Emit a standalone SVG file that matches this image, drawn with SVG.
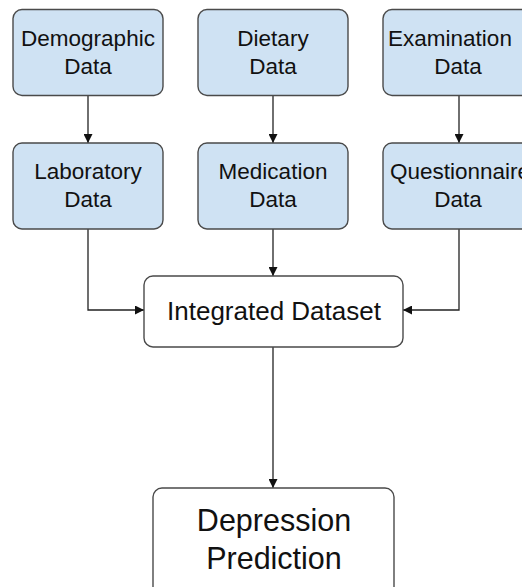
<svg xmlns="http://www.w3.org/2000/svg" width="522" height="587" viewBox="0 0 522 587">
<defs>
<style>
.src{fill:#cfe2f3;stroke:#4a4a4a;stroke-width:1.4}
.out{fill:#ffffff;stroke:#4a4a4a;stroke-width:1.4}
text{font-family:"Liberation Sans",Arial,sans-serif;fill:#111;text-anchor:middle}
.s{font-size:22.5px}
.m{font-size:26px}
.l{font-size:30.5px}
.c{fill:none;stroke:#222;stroke-width:1.3}
</style>
<marker id="ah" viewBox="0 0 10 10" refX="10" refY="5" markerWidth="10" markerHeight="9" markerUnits="userSpaceOnUse" orient="auto">
<path d="M0,0 L10,5 L0,10 z" fill="#111"/>
</marker>
</defs>
<rect width="522" height="587" fill="#ffffff"/>
<g id="connectors">
<path class="c" d="M88,96 V143" marker-end="url(#ah)"/>
<path class="c" d="M273,96 V143" marker-end="url(#ah)"/>
<path class="c" d="M459,96 V143" marker-end="url(#ah)"/>
<path class="c" d="M88,229 V310 H144" marker-end="url(#ah)"/>
<path class="c" d="M273,229 V276" marker-end="url(#ah)"/>
<path class="c" d="M459,229 V310 H403" marker-end="url(#ah)"/>
<path class="c" d="M273,347 V488" marker-end="url(#ah)"/>
</g>
<g id="demographic">
<rect class="src" x="13" y="9.5" width="150" height="86" rx="9"/>
<text class="s" x="88" y="46">Demographic</text>
<text class="s" x="88" y="74">Data</text>
</g>
<g id="dietary">
<rect class="src" x="198" y="9.5" width="150" height="86" rx="9"/>
<text class="s" x="273" y="46">Dietary</text>
<text class="s" x="273" y="74">Data</text>
</g>
<g id="examination">
<rect class="src" x="383" y="9.5" width="152" height="86" rx="9"/>
<text class="s" x="450" y="46">Examination</text>
<text class="s" x="458" y="74">Data</text>
</g>
<g id="laboratory">
<rect class="src" x="13" y="143" width="150" height="86" rx="9"/>
<text class="s" x="88" y="179">Laboratory</text>
<text class="s" x="88" y="207">Data</text>
</g>
<g id="medication">
<rect class="src" x="198" y="143" width="150" height="86" rx="9"/>
<text class="s" x="273" y="179">Medication</text>
<text class="s" x="273" y="207">Data</text>
</g>
<g id="questionnaire">
<rect class="src" x="383" y="143" width="152" height="86" rx="9"/>
<text class="s" x="390" y="179" style="text-anchor:start">Questionnaire</text>
<text class="s" x="458" y="207">Data</text>
</g>
<g id="integrated">
<rect class="out" x="144" y="276" width="259" height="71" rx="9"/>
<text class="m" x="274" y="320">Integrated Dataset</text>
</g>
<g id="prediction">
<rect class="out" x="153" y="488" width="241" height="110" rx="9"/>
<text class="l" x="274" y="531">Depression</text>
<text class="l" x="274" y="569">Prediction</text>
</g>
</svg>
